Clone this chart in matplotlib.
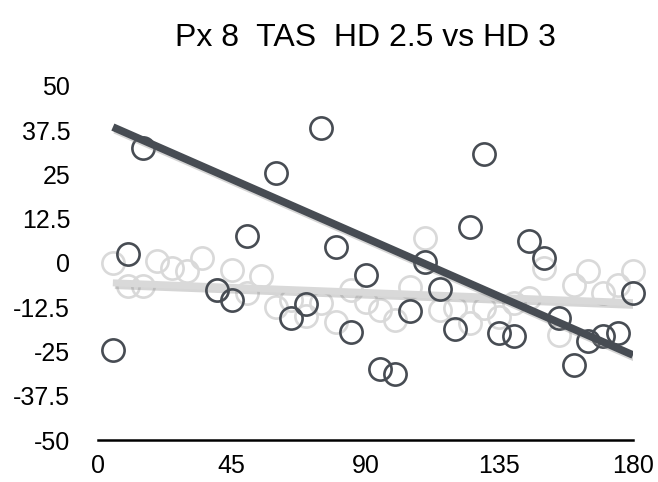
import numpy as np
import matplotlib
matplotlib.use("Agg")
import matplotlib.pyplot as plt
import matplotlib.patheffects as pe

plt.rcParams['font.family'] = ['Liberation Sans', 'DejaVu Sans']

title = "Px 8  TAS  HD 2.5 vs HD 3"

# light series (HD 2.5)
light_x = [5, 10, 15, 20, 25, 30, 35, 40, 45, 50, 55, 60, 65, 70, 75, 80, 85, 90,
           95, 100, 105, 110, 115, 120, 125, 130, 135, 140, 145, 150, 155, 160,
           165, 170, 175, 180]
light_y = [0, -6.4, -6.5, 0.5, -1.4, -2.2, 1.5, -7.5, -2.0, -8.6, -3.6, -12.3,
           -10.5, -15.0, -11.2, -16.6, -7.6, -11.0, -13.3, -16.0, -6.7, 7.0,
           -13.3, -12.8, -17.0, -12.8, -15.2, -11.4, -10.0, -1.5, -20.4, -6.2,
           -2.4, -8.6, -6.2, -2.4]

# dark series (HD 3)
dark_x = [5, 10, 15, 40, 45, 50, 60, 65, 70, 75, 80, 85, 90, 95, 100, 105, 110,
          115, 120, 125, 130, 135, 140, 145, 150, 155, 160, 165, 170, 175, 180]
dark_y = [-24.5, 2.5, 32.5, -7.5, -10.5, 7.5, 25.5, -15.6, -11.6, 38.0, 4.5,
          -19.5, -3.4, -29.9, -31.4, -13.5, 0.3, -7.4, -18.6, 10.3, 30.8, -19.9,
          -20.7, 6.3, 1.5, -15.6, -28.8, -22.0, -20.7, -19.9, -8.4]

# trend lines (as drawn in the chart)
trend_x = [5, 180]
light_trend_y = [-5.6, -11.2]
dark_trend_y = [38.4, -26.0]

x_ticks = [0, 45, 90, 135, 180]
y_ticks = [50, 37.5, 25, 12.5, 0, -12.5, -25, -37.5, -50]
y_labels = ["50", "37.5", "25", "12.5", "0", "-12.5", "-25", "-37.5", "-50"]

dark_c = "#474c53"
light_c = "#d9d9d9"

fig = plt.figure(figsize=(6.58, 4.82), dpi=100)
ax = fig.add_axes([98/658, 42/482, 535/658, 354/482])

ms = 16
mew = 1.9
ax.plot(light_x, light_y, 'o', ms=ms, mfc='none', mec=light_c, mew=mew, zorder=2, clip_on=False)

shadow = [pe.SimpleLineShadow(offset=(1.5, -2), shadow_color='#888888', alpha=0.35), pe.Normal()]

ax.plot(trend_x, light_trend_y, color=light_c, lw=5, solid_capstyle='butt', zorder=3,
        path_effects=shadow)

ax.plot(dark_x, dark_y, 'o', ms=ms, mfc='none', mec=dark_c, mew=mew, zorder=4, clip_on=False)

ax.plot(trend_x, dark_trend_y, color=dark_c, lw=5.5, solid_capstyle='butt', zorder=5,
        path_effects=shadow)

ax.set_xlim(0, 180)
ax.set_ylim(-50, 50)
ax.set_xticks(x_ticks)
ax.set_xticklabels([str(v) for v in x_ticks])
ax.set_yticks(y_ticks)
ax.set_yticklabels(y_labels)
for s in ['top', 'right', 'left']:
    ax.spines[s].set_visible(False)
ax.spines['bottom'].set_linewidth(1.8)
ax.spines['bottom'].set_color('black')
ax.tick_params(axis='both', length=0, labelsize=18, colors='black')
ax.tick_params(axis='y', pad=20)
ax.tick_params(axis='x', pad=10)

fig.text(365/658, 1 - 38/482, title, ha='center', va='center', fontsize=23)

fig.savefig("out.png", dpi=100)
